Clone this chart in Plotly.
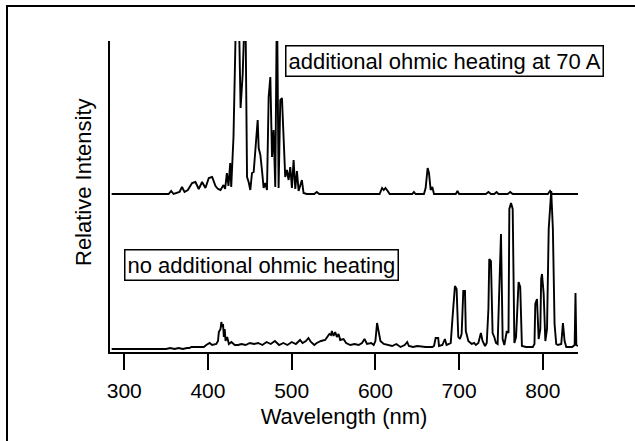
import plotly.graph_objects as go

# ---- data (wavelength in nm, intensity in arbitrary units above each baseline) ----
low_wl = [285, 350, 355, 360, 365, 370, 375, 378, 380, 395, 398, 402, 405, 410, 412, 413, 415, 416, 417, 418,
          419, 420, 421, 423, 425, 428, 432, 436, 440, 445, 450, 455, 460, 465, 470, 475, 480, 485, 490, 495,
          500, 505, 510, 513, 517, 520, 523, 527, 530, 535, 540, 543, 545, 547, 548, 550, 552, 554, 556, 558,
          562, 565, 570, 575, 580, 584, 587, 590, 595, 598, 600, 602, 604, 606, 610, 615, 620, 625, 630, 635,
          638, 640, 645, 650, 660, 668, 670, 672, 675, 676, 680, 683, 685, 688, 690, 692, 695, 697, 699, 701,
          703, 705, 707, 708, 711, 715, 718, 720, 723, 726, 728, 731, 733, 735, 736, 738, 740, 742, 744, 746,
          748, 750, 752, 754, 757, 759, 760, 762, 764, 766, 768, 770, 771, 773, 775, 780, 788, 790, 791, 793,
          795, 797, 798, 799, 801, 803, 805, 807, 810, 812, 814, 816, 818, 822, 824, 826, 828, 835, 838, 839,
          840, 842]
low_int = [0, 0, 1, 0, 1, 0, 1, 1, 2, 2, 4, 6, 4, 5, 8, 17, 20, 27, 22, 25,
           12, 20, 8, 12, 5, 7, 4, 4, 5, 4, 6, 5, 6, 4, 7, 5, 8, 4, 6, 4,
           7, 5, 9, 6, 8, 11, 7, 4, 6, 8, 9, 12, 15, 14, 18, 13, 17, 12, 15, 9,
           10, 6, 4, 5, 4, 6, 10, 5, 6, 4, 8, 26, 18, 8, 5, 4, 3, 5, 2, 4,
           7, 3, 2, 3, 2, 2, 3, 11, 11, 3, 4, 10, 4, 5, 6, 30, 63, 60, 12, 10,
           15, 58, 58, 18, 8, 5, 6, 4, 6, 16, 8, 3, 6, 40, 90, 88, 16, 12, 6, 5,
           60, 115, 10, 4, 18, 16, 140, 146, 140, 6, 12, 60, 67, 62, 3, 2, 2, 5, 45, 50,
           10, 20, 70, 75, 55, 8, 20, 120, 158, 120, 25, 5, 4, 5, 26, 8, 2, 2, 4, 56,
           4, 3]

up_wl = [285, 353, 356, 359, 366, 369, 372, 376, 381, 385, 389, 393, 397, 401, 405, 409, 412, 415, 418.6, 420.5,
         422.6, 424.5, 426.6, 427.8, 430.5, 432.4, 434, 436.5, 439, 441.5, 444.6, 446.7, 448.6, 450.6, 452.6, 454.6,
         456.6, 459.4, 460.6, 462.6, 464.5, 466.5, 468.5, 470.5, 472.5, 474.5, 476.5, 478.4, 480.4, 482.4, 484.4,
         486.4, 488.4, 490.4, 492.3, 494.3, 496.3, 498.3, 500.3, 502.3, 504.3, 506.3, 508.3, 512.2, 514.2, 518,
         527, 530, 533, 605, 608, 610, 612, 614.7, 617, 644, 646, 648, 658, 660, 662.4, 664, 666, 668, 670, 690,
         696, 698, 700, 732, 735, 738, 742, 744.7, 747, 758, 761, 764, 806, 808.6, 811, 842]
up_int = [0, 0, 3, 0, 2, 7, 2, 4, 11, 12, 5, 12, 6, 16, 17, 8, 5, 4, 9, 5,
          21, 8, 31, 7, 57, 200, 200, 200, 86, 120, 200, 17, 12, 4, 21, 22,
          47, 74, 46, 39, 24, 6, 11, 4, 97, 117, 37, 64, 7, 200, 6,
          94, 96, 57, 17, 24, 14, 27, 6, 34, 5, 23, 3, 14, 1, 0,
          0, 2, 0, 0, 6, 4, 6, 3, 0, 0, 2, 0, 0, 6, 26, 21, 4, 7, 0, 0,
          0, 3, 0, 0, 2, 0, 0, 2, 0, 0, 2, 0, 0, 3, 0, 0]

up_offset = 155
label_up = "additional ohmic heating at 70 A"
label_low = "no additional ohmic heating"
x_ticks = [300, 400, 500, 600, 700, 800]

FONT = "Arial, Liberation Sans, sans-serif"

fig = go.Figure()
fig.add_trace(go.Scatter(x=low_wl, y=low_int, mode="lines",
                         line=dict(color="black", width=1.9), showlegend=False))
fig.add_trace(go.Scatter(x=up_wl, y=[v + up_offset for v in up_int], mode="lines",
                         line=dict(color="black", width=1.9), showlegend=False))

fig.update_layout(
    width=635, height=441,
    margin=dict(l=110, r=57, t=41, b=89),
    paper_bgcolor="white", plot_bgcolor="white",
    font=dict(family=FONT, size=21, color="black"),
    xaxis=dict(range=[283, 842], tickvals=x_ticks, ticktext=[str(v) for v in x_ticks],
               showline=True, linecolor="black", linewidth=1.5,
               ticks="outside", ticklen=16, tickwidth=1.5, tickcolor="black",
               tickfont=dict(size=21), ticklabelstandoff=3,
               showgrid=False, zeroline=False,
               title=dict(text="Wavelength (nm)", font=dict(size=22), standoff=8)),
    yaxis=dict(range=[-3, 308], showline=True, linecolor="black", linewidth=1.5,
               showticklabels=False, ticks="", showgrid=False, zeroline=False),
    annotations=[
        dict(text=label_up, xref="paper", yref="paper", x=(285 - 110) / 468, y=(352 - 45) / 311,
             xanchor="left", yanchor="top", showarrow=False, font=dict(size=22),
             bordercolor="black", borderwidth=1.5, borderpad=2, bgcolor="white"),
        dict(text=label_low, xref="paper", yref="paper", x=(124 - 110) / 468, y=(352 - 249) / 311,
             xanchor="left", yanchor="top", showarrow=False, font=dict(size=22),
             bordercolor="black", borderwidth=1.5, borderpad=2, bgcolor="white"),
        dict(text="Relative Intensity", xref="paper", yref="paper", x=(83 - 110) / 468, y=(352 - 182) / 311,
             xanchor="center", yanchor="middle", textangle=-90, showarrow=False, font=dict(size=22)),
    ],
    shapes=[dict(type="rect", xref="paper", yref="paper",
                 x0=(7 - 110) / 468, x1=1.5, y0=-1, y1=(352 - 6) / 311,
                 line=dict(color="black", width=2), layer="below")],
)

fig.write_html("out.html")
